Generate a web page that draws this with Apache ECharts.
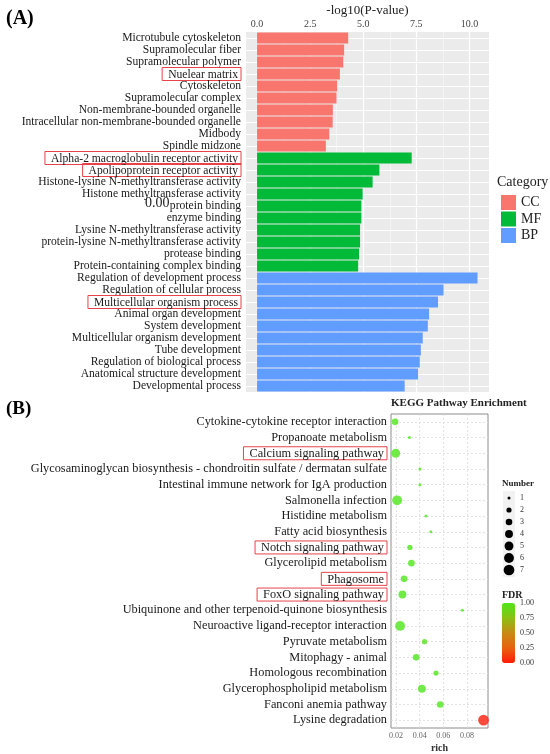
<!DOCTYPE html>
<html>
<head>
<meta charset="utf-8">
<script src="https://cdn.jsdelivr.net/npm/echarts@6/dist/echarts.min.js"></script>
<style>
html, body { margin: 0; padding: 0; background: #fff; }
#chart { width: 550px; height: 754px; }
</style>
</head>
<body>
<div id="chart"></div>
<script>
// GO enrichment (panel A)
var ccTerms = ['Microtubule cytoskeleton', 'Supramolecular fiber', 'Supramolecular polymer', 'Nuelear matrix',
	'Cytoskeleton', 'Supramolecular complex', 'Non-membrane-bounded organelle',
	'Intracellular non-membrane-bounded organelle', 'Midbody', 'Spindle midzone'];
var ccValues = [4.29, 4.10, 4.06, 3.90, 3.77, 3.74, 3.57, 3.56, 3.40, 3.24];
var mfTerms = ['Alpha-2 macroglobulin receptor activity', 'Apolipoprotein receptor activity',
	'Histone-lysine N-methyltransferase activity', 'Histone methyltransferase activity', 'protein binding',
	'enzyme binding', 'Lysine N-methyltransferase activity', 'protein-lysine N-methyltransferase activity',
	'protease binding', 'Protein-containing complex binding'];
var mfValues = [7.28, 5.76, 5.44, 4.97, 4.91, 4.91, 4.85, 4.85, 4.80, 4.76];
var bpTerms = ['Regulation of development process', 'Regulation of cellular process',
	'Multicellular organism process', 'Animal organ development', 'System development',
	'Multicellular organism development', 'Tube development', 'Regulation of biological process',
	'Anatomical structure development', 'Developmental process'];
var bpValues = [10.38, 8.78, 8.52, 8.10, 8.04, 7.80, 7.71, 7.66, 7.58, 6.95];
var goTicks = [0, 2.5, 5, 7.5, 10];
var goMinorTicks = [1.25, 3.75, 6.25, 8.75];

// KEGG enrichment (panel B)
var keggTerms = ['Cytokine-cytokine receptor interaction', 'Propanoate metabolism', 'Calcium signaling pathway',
	'Glycosaminoglycan biosynthesis - chondroitin sulfate / dermatan sulfate',
	'Intestinal immune network for IgA production', 'Salmonella infection', 'Histidine metabolism',
	'Fatty acid biosynthesis', 'Notch signaling pathway', 'Glycerolipid metabolism', 'Phagosome',
	'FoxO signaling pathway', 'Ubiquinone and other terpenoid-quinone biosynthesis',
	'Neuroactive ligand-receptor interaction', 'Pyruvate metabolism', 'Mitophagy - animal',
	'Homologous recombination', 'Glycerophospholipid metabolism', 'Fanconi anemia pathway', 'Lysine degradation'];
var keggRich = [0.0191, 0.0313, 0.0197, 0.0402, 0.0402, 0.0209, 0.0453, 0.0495, 0.0317, 0.0330,
	0.0268, 0.0254, 0.0762, 0.0234, 0.0441, 0.0370, 0.0538, 0.0419, 0.0574, 0.0941];
var keggNumber = [3, 1, 5, 1, 1, 6, 1, 1, 2, 3, 3, 4, 1, 6, 2, 3, 2, 4, 3, 7];
var keggFdr = [1, 1, 1, 1, 1, 1, 1, 1, 1, 1, 1, 1, 1, 1, 1, 1, 1, 1, 1, 0.01];
var richTicks = [0.02, 0.04, 0.06, 0.08];
var numberKeys = [1, 2, 3, 4, 5, 6, 7];
var fdrTicks = [1, 0.75, 0.5, 0.25, 0];

// labels drawn with a red frame
var boxed = ['Nuelear matrix', 'Alpha-2 macroglobulin receptor activity', 'Apolipoprotein receptor activity',
	'Multicellular organism process', 'Calcium signaling pathway', 'Notch signaling pathway', 'Phagosome',
	'FoxO signaling pathway'];

var serif = 'Liberation Serif';
var goTerms = ccTerms.concat(mfTerms, bpTerms);

function part(terms, values) {
	// value on its own rows, '-' elsewhere
	return goTerms.map(function(t) {
		var i = terms.indexOf(t);
		return i < 0 ? '-' : values[i];
	});
}

function dotSize(n) {
	return Math.sqrt(17.6 * n - 8.6);
}

function boxLabel(v) {
	return boxed.indexOf(v) >= 0 ? '{box|' + v + '}' : v;
}

var boxRich = {
	box: {
		borderColor: '#e8434a',
		borderWidth: 1,
		padding: [1, 3, 0, 6],
		fontFamily: serif,
		color: '#1a1a1a'
	}
};

var graphics = [{
	type: 'rect',
	shape: { x: 503, y: 491, width: 12, height: 86 },
	style: { fill: '#f2f2f2' }
}];
numberKeys.forEach(function(n, i) {
	graphics.push({
		type: 'circle',
		shape: { cx: 509, cy: 498 + 12 * i, r: dotSize(n) / 2 },
		style: { fill: '#000' }
	});
	graphics.push({
		type: 'text',
		x: 520, y: 498 + 12 * i,
		style: { text: String(n), fontSize: 8, fontFamily: serif, verticalAlign: 'middle', fill: '#333' }
	});
});
fdrTicks.forEach(function(t) {
	graphics.push({
		type: 'text',
		x: 520, y: 603 + (1 - t) * 60,
		style: { text: t.toFixed(2), fontSize: 8, fontFamily: serif, verticalAlign: 'middle', fill: '#333' }
	});
});

var myChart = echarts.init(document.getElementById('chart'));
myChart.setOption({
	animation: false,
	textStyle: { fontFamily: serif },
	title: [
		{ text: '(A)', left: 6, top: 9, padding: 0, textStyle: { fontSize: 20, fontWeight: 'bold', fontFamily: serif, color: '#000' } },
		{ text: '(B)', left: 6, top: 400, padding: 0, textStyle: { fontSize: 19, fontWeight: 'bold', fontFamily: serif, color: '#000' } },
		{ text: 'Category', left: 497, top: 175, padding: 0, textStyle: { fontSize: 14, fontWeight: 'normal', fontFamily: serif, color: '#222' } },
		{ text: 'KEGG Pathway Enrichment', left: 391, top: 398, padding: 0, textStyle: { fontSize: 11, fontWeight: 'bold', fontFamily: serif, color: '#222' } },
		{ text: 'Number', left: 502, top: 479, padding: 0, textStyle: { fontSize: 9, fontWeight: 'bold', fontFamily: serif, color: '#222' } },
		{ text: 'FDR', left: 502, top: 590, padding: 0, textStyle: { fontSize: 10, fontWeight: 'bold', fontFamily: serif, color: '#222' } },
		{ text: '0.00', left: 145, top: 196, padding: 0, textStyle: { fontSize: 14, fontWeight: 'normal', fontFamily: serif, color: '#222' } }
	],
	legend: {
		data: ['CC', 'MF', 'BP'],
		orient: 'vertical',
		left: 501, top: 195,
		padding: 0,
		icon: 'rect',
		itemWidth: 15, itemHeight: 15, itemGap: 1.5,
		textStyle: { fontSize: 14, fontFamily: serif, color: '#222' }
	},
	visualMap: {
		type: 'continuous',
		seriesIndex: 3,
		dimension: 3,
		min: 0, max: 1,
		left: 502, top: 603,
		padding: 0,
		itemWidth: 13, itemHeight: 60,
		calculable: false,
		inRange: { color: ['#ff1a0a', '#e8620e', '#c88a14', '#8cc014', '#4fe61a'] }
	},
	graphic: graphics,
	grid: [
		{ left: 246, top: 32, width: 243, height: 360, show: true, backgroundColor: '#ebebeb', borderWidth: 0 },
		{ left: 391, top: 414, width: 97, height: 314, show: true, backgroundColor: '#fff', borderColor: '#8c8c8c', borderWidth: 1 }
	],
	xAxis: [{
		gridIndex: 0, type: 'value', position: 'top',
		min: -0.52, max: 10.92,
		name: '-log10(P-value)', nameLocation: 'middle', nameGap: 15,
		nameTextStyle: { fontSize: 13, color: '#222', fontFamily: serif },
		axisLine: { show: false },
		axisTick: { length: 3, customValues: goTicks, lineStyle: { color: '#444' } },
		axisLabel: { customValues: goTicks, fontSize: 10, color: '#444', margin: 3, formatter: function(v) { return v.toFixed(1); } },
		splitLine: { show: true, lineStyle: { color: '#fff', width: 1.2 } }
	}, {
		gridIndex: 0, type: 'value', position: 'top',
		min: -0.52, max: 10.92,
		axisLine: { show: false },
		axisTick: { show: false, customValues: goMinorTicks },
		axisLabel: { show: false, customValues: goMinorTicks },
		splitLine: { show: true, lineStyle: { color: '#fff', width: 0.5 } }
	}, {
		gridIndex: 1, type: 'value',
		min: 0.0157, max: 0.0979,
		name: 'rich', nameLocation: 'middle', nameGap: 15,
		nameTextStyle: { fontSize: 10, fontWeight: 'bold', color: '#333', fontFamily: serif },
		axisLine: { show: false },
		axisTick: { length: 3, customValues: richTicks, lineStyle: { color: '#555' } },
		axisLabel: { customValues: richTicks, fontSize: 8, color: '#666', margin: 4, formatter: function(v) { return v.toFixed(2); } },
		splitLine: { show: true, lineStyle: { color: '#dcdcdc', type: [2, 2], width: 0.8 } }
	}],
	yAxis: [{
		gridIndex: 0, type: 'category', data: goTerms, inverse: true,
		axisLine: { show: false },
		axisTick: { length: 3, alignWithLabel: true, lineStyle: { color: '#444' } },
		axisLabel: { fontSize: 11.6, color: '#1a1a1a', margin: 5, interval: 0, formatter: boxLabel, rich: boxRich },
		splitLine: { show: true, alignWithLabel: true, lineStyle: { color: '#fff', width: 1 } }
	}, {
		gridIndex: 1, type: 'category', data: keggTerms, inverse: true,
		axisLine: { show: false },
		axisTick: { length: 3, alignWithLabel: true, lineStyle: { color: '#444' } },
		axisLabel: { fontSize: 12.3, color: '#1a1a1a', margin: 4, interval: 0, formatter: boxLabel, rich: boxRich },
		splitLine: { show: true, alignWithLabel: true, lineStyle: { color: '#dcdcdc', type: [2, 2], width: 0.8 } }
	}],
	series: [
		{ name: 'CC', type: 'bar', stack: 'go', xAxisIndex: 0, yAxisIndex: 0, barWidth: '90%', itemStyle: { color: '#F8766D' }, data: part(ccTerms, ccValues) },
		{ name: 'MF', type: 'bar', stack: 'go', xAxisIndex: 0, yAxisIndex: 0, barWidth: '90%', itemStyle: { color: '#00BA38' }, data: part(mfTerms, mfValues) },
		{ name: 'BP', type: 'bar', stack: 'go', xAxisIndex: 0, yAxisIndex: 0, barWidth: '90%', itemStyle: { color: '#619CFF' }, data: part(bpTerms, bpValues) },
		{
			name: 'KEGG', type: 'scatter', xAxisIndex: 2, yAxisIndex: 1,
			symbolSize: function(v) { return dotSize(v[2]); },
			data: keggTerms.map(function(t, i) { return [keggRich[i], t, keggNumber[i], keggFdr[i]]; })
		}
	]
});
</script>
</body>
</html>
